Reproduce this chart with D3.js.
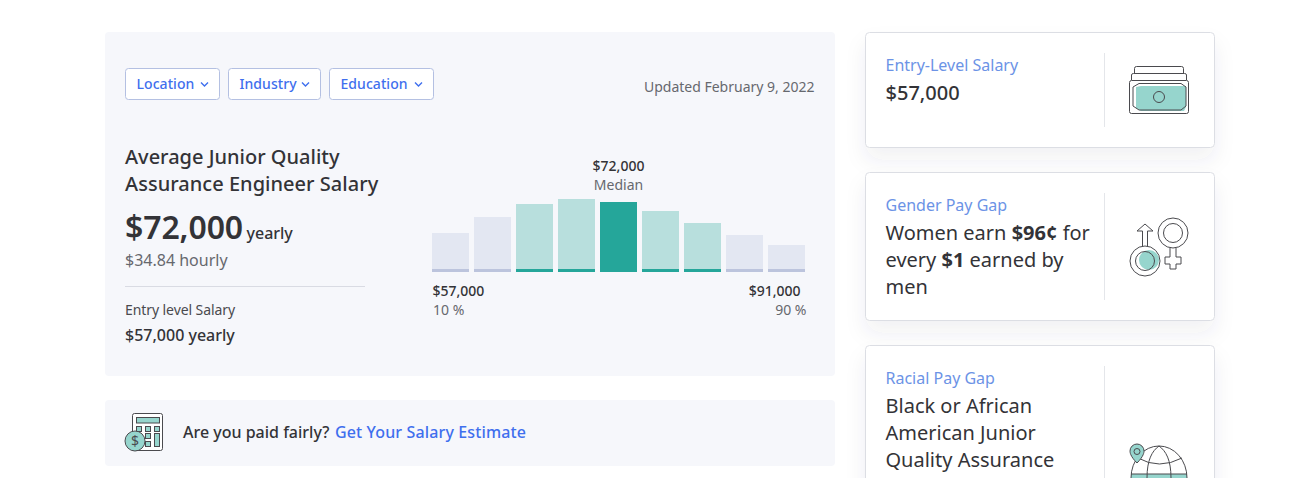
<!DOCTYPE html>
<html>
<head>
<meta charset="utf-8">
<script src="https://cdnjs.cloudflare.com/ajax/libs/d3/7.8.5/d3.min.js"></script>
<style>
html, body { margin: 0; padding: 0; background: #fff; overflow: hidden; }
svg { display: block; font-family: "Noto Sans", sans-serif; }
</style>
</head>
<body>
<svg id="page" width="1301" height="478"></svg>
<script>
// salary histogram, bar heights
const bins = ['b1', 'b2', 'b3', 'b4', 'b5', 'b6', 'b7', 'b8', 'b9'];
const binValues = [39, 55, 68, 73, 70, 61, 49, 37, 27];
const binGroups = ['outer', 'outer', 'inner', 'inner', 'median', 'inner', 'inner', 'outer', 'outer'];
const filters = ['Location', 'Industry', 'Education'];

const dark = '#333337', gray = '#66686e', blue = '#3f6fee', softBlue = '#6c93e6', teal = '#25a69a', mint = '#96d5cd', ink = '#4a4a4e';
const barFill = { outer: '#e3e7f2', inner: '#b8dfdd', median: teal };
const stripFill = { outer: '#bcc4dd', inner: teal, median: teal };

const svg = d3.select('#page');

const defs = svg.append('defs');
const shadow = defs.append('filter').attr('id', 'cardShadow')
    .attr('x', '-10%').attr('y', '-20%').attr('width', '120%').attr('height', '160%');
shadow.append('feDropShadow').attr('dx', 0).attr('dy', 12).attr('stdDeviation', 10)
    .attr('flood-color', '#3c4664').attr('flood-opacity', 0.07);

function label(parent, x, y, txt, size, fill, weight, anchor) {
    return parent.append('text').attr('x', x).attr('y', y)
        .attr('font-size', size).attr('fill', fill)
        .attr('font-weight', weight || 400)
        .attr('text-anchor', anchor || 'start')
        .text(txt);
}

// rich line: parts are [text, bold]
function richLine(x, y, parts, size, fill) {
    const t = svg.append('text').attr('x', x).attr('y', y).attr('font-size', size).attr('fill', fill);
    parts.forEach(p => t.append('tspan').attr('font-weight', p[1] ? 700 : 400).text(p[0]));
}

// panels
svg.append('rect').attr('x', 105).attr('y', 32).attr('width', 730).attr('height', 344).attr('rx', 4).attr('fill', '#f6f7fb');
svg.append('rect').attr('x', 105).attr('y', 400).attr('width', 730).attr('height', 66).attr('rx', 4).attr('fill', '#f6f7fb');

// filter buttons
const btnBoxes = [[125, 95], [228, 93], [329, 105]];
filters.forEach((f, i) => {
    const [x, w] = btnBoxes[i];
    svg.append('rect').attr('x', x + 0.5).attr('y', 68.5).attr('width', w - 1).attr('height', 31).attr('rx', 3)
        .attr('fill', '#fff').attr('stroke', '#b4c0e2');
    label(svg, x + 11.5, 89, f, 14, blue, 500).attr('letter-spacing', 0.06);
    const cx = x + w - 15.5;
    svg.append('path').attr('d', `M${cx - 3.5},82.5 L${cx},86 L${cx + 3.5},82.5`)
        .attr('fill', 'none').attr('stroke', blue).attr('stroke-width', 1.4);
});
label(svg, 814.5, 92, 'Updated February 9, 2022', 14, gray, 400, 'end');

// headline block
label(svg, 125, 164, 'Average Junior Quality', 20, dark, 500);
label(svg, 125, 191, 'Assurance Engineer Salary', 20, dark, 500).attr('letter-spacing', 0.03);
label(svg, 125, 239, '$72,000', 32, dark, 600).attr('letter-spacing', -0.1);
label(svg, 246.5, 239, 'yearly', 16, dark, 500);
label(svg, 125, 266, '$34.84 hourly', 16, gray);
svg.append('line').attr('x1', 125).attr('x2', 365).attr('y1', 286.5).attr('y2', 286.5).attr('stroke', '#d9dbe3');
label(svg, 125, 315, 'Entry level Salary', 14, ink).attr('letter-spacing', -0.08);
label(svg, 125, 341, '$57,000 yearly', 16, dark, 500);

// histogram
const x = d3.scaleBand().domain(bins).range([432, 805]).paddingInner(5 / 42).paddingOuter(0);
const y = d3.scaleLinear().domain([0, 73]).range([272, 199]);
const stripH = 3;

const bars = svg.append('g').selectAll('g').data(bins).join('g');
bars.append('rect')
    .attr('x', d => x(d))
    .attr('y', (d, i) => y(binValues[i]))
    .attr('width', x.bandwidth())
    .attr('height', (d, i) => y(0) - y(binValues[i]))
    .attr('fill', (d, i) => barFill[binGroups[i]]);
bars.append('rect')
    .attr('x', d => x(d))
    .attr('y', y(0) - stripH)
    .attr('width', x.bandwidth())
    .attr('height', stripH)
    .attr('fill', (d, i) => stripFill[binGroups[i]]);

const midX = x('b5') + x.bandwidth() / 2;
label(svg, midX, 171, '$72,000', 14, dark, 500, 'middle');
label(svg, midX, 190, 'Median', 14, gray, 400, 'middle');
label(svg, 432.5, 296, '$57,000', 14, dark, 500);
label(svg, 433, 315, '10 %', 14, gray);
label(svg, 800.5, 296, '$91,000', 14, dark, 500, 'end');
label(svg, 806.5, 315, '90 %', 14, gray, 400, 'end');

// estimate strip
const calc = svg.append('g').attr('fill', 'none').attr('stroke', ink).attr('stroke-width', 1);
calc.append('rect').attr('x', 132.5).attr('y', 413.5).attr('width', 30).attr('height', 37).attr('rx', 2).attr('fill', '#fff');
calc.append('rect').attr('x', 136.5).attr('y', 417.5).attr('width', 23).attr('height', 5.5).attr('fill', mint);
[[136.5, 426.5], [145.5, 426.5], [154.5, 426.5], [145.5, 433.5], [145.5, 441.5]].forEach(p => {
    calc.append('rect').attr('x', p[0]).attr('y', p[1]).attr('width', 5).attr('height', 5).attr('fill', mint);
});
calc.append('rect').attr('x', 154.5).attr('y', 433.5).attr('width', 5).attr('height', 13).attr('fill', mint);
calc.append('circle').attr('cx', 135).attr('cy', 441).attr('r', 10).attr('fill', mint);
label(svg, 135, 446, '$', 14, ink, 400, 'middle');

label(svg, 183, 438, 'Are you paid fairly?', 16, dark, 500);
label(svg, 335, 438, 'Get Your Salary Estimate', 16, blue, 500).attr('letter-spacing', 0.13);

// right hand cards
const cards = [[32, 116, 53, 127], [172, 149, 193, 300], [345, 200, 366, 500]];
cards.forEach(c => {
    svg.append('rect').attr('x', 865.5).attr('y', c[0] + 0.5).attr('width', 349).attr('height', c[1] - 1).attr('rx', 4)
        .attr('fill', '#fff').attr('stroke', '#dcdee4').attr('filter', 'url(#cardShadow)');
    svg.append('line').attr('x1', 1104.5).attr('x2', 1104.5).attr('y1', c[2]).attr('y2', c[3]).attr('stroke', '#e4e6ea');
});

label(svg, 885.5, 71, 'Entry-Level Salary', 16, softBlue);
label(svg, 885.5, 100, '$57,000', 20, dark, 500);

label(svg, 885.5, 211, 'Gender Pay Gap', 16, softBlue);
richLine(885.5, 240, [['Women earn ', false], ['$96¢', true], [' for', false]], 20, dark);
richLine(885.5, 267, [['every ', false], ['$1', true], [' earned by', false]], 20, dark);
label(svg, 885.5, 294, 'men', 20, dark);

label(svg, 885.5, 384, 'Racial Pay Gap', 16, softBlue);
label(svg, 885.5, 413, 'Black or African', 20, dark);
label(svg, 885.5, 440, 'American Junior', 20, dark);
label(svg, 885.5, 467, 'Quality Assurance', 20, dark);

// money icon
const money = svg.append('g').attr('fill', 'none').attr('stroke', ink).attr('stroke-width', 1);
money.append('path').attr('d', 'M1134.5,73 V68.5 Q1134.5,66.5 1136.5,66.5 H1181.5 Q1183.5,66.5 1183.5,68.5 V73');
money.append('path').attr('d', 'M1131.5,80 V75 Q1131.5,73.5 1133.5,73.5 H1184.5 Q1186.5,73.5 1186.5,75 V80');
money.append('rect').attr('x', 1129.5).attr('y', 80.5).attr('width', 59).attr('height', 33).attr('rx', 2).attr('fill', '#fff');
money.append('path').attr('d', 'M1136,87 L1141,86 H1186 V107 L1184,111 H1141 L1136,108 Z').attr('fill', mint).attr('stroke', 'none');
money.append('path').attr('d', 'M1133,87 L1139,83.5 H1181 L1186,87 V106 L1181,110 H1139 L1133,106 Z');
money.append('circle').attr('cx', 1159).attr('cy', 97).attr('r', 5.5);

// gender icon
const gender = svg.append('g').attr('fill', 'none').attr('stroke', ink).attr('stroke-width', 1);
gender.append('circle').attr('cx', 1149).attr('cy', 260).attr('r', 10).attr('fill', mint).attr('stroke', 'none');
gender.append('circle').attr('cx', 1145).attr('cy', 261).attr('r', 15);
gender.append('circle').attr('cx', 1145).attr('cy', 261).attr('r', 9.5);
gender.append('path').attr('d', 'M1142.5,246 V231 H1137 L1145,224 L1153,231 H1147.5 V246');
gender.append('circle').attr('cx', 1173).attr('cy', 233).attr('r', 15);
gender.append('circle').attr('cx', 1173).attr('cy', 233).attr('r', 9.5);
gender.append('path').attr('d', 'M1170,248 V257 H1165 V264 H1170 V269 H1176 V264 H1181 V257 H1176 V248');

// globe icon, cut by the window edge
const globe = svg.append('g').attr('fill', 'none').attr('stroke', ink).attr('stroke-width', 1);
globe.append('rect').attr('x', 1131).attr('y', 474).attr('width', 56).attr('height', 4).attr('fill', mint).attr('stroke', 'none');
globe.append('path').attr('d', 'M1131,478 A28,32 0 0 1 1187,478');
globe.append('path').attr('d', 'M1147,478 C1147,460 1152,451 1159,446 C1166,451 1171,460 1171,478');
globe.append('path').attr('d', 'M1138,458 Q1159,470 1182,458');
globe.append('line').attr('x1', 1131).attr('x2', 1187).attr('y1', 474).attr('y2', 474);
globe.append('path').attr('d', 'M1137,463 C1130,456 1130,452 1130,451 A7,7 0 0 1 1144,451 C1144,452 1144,456 1137,463 Z').attr('fill', mint);
globe.append('circle').attr('cx', 1137).attr('cy', 451.5).attr('r', 3);
</script>
</body>
</html>
